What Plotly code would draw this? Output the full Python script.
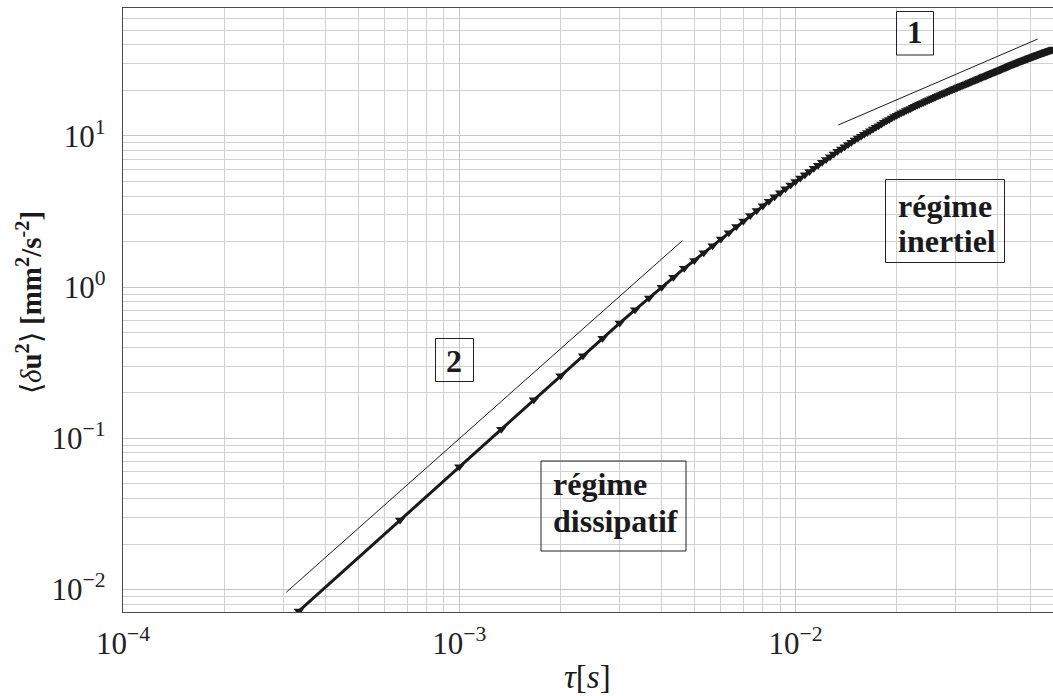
import plotly.graph_objects as go

# Second-order velocity structure function <du^2> vs time lag tau
sample_rate_hz = 3000
lag_samples = list(range(1, 177))

structure_fn = [
    0.0072, 0.0288, 0.0648, 0.115, 0.18, 0.259, 0.352, 0.459, 0.578, 0.708,
    0.848, 0.998, 1.16, 1.33, 1.50, 1.684, 1.877, 2.079, 2.291, 2.512,
    2.741, 2.979, 3.213, 3.452, 3.699, 3.952, 4.204, 4.464, 4.730, 5.002,
    5.269, 5.544, 5.824, 6.108, 6.399, 6.691, 6.988, 7.289, 7.593, 7.903,
    8.192, 8.488, 8.786, 9.088, 9.393, 9.676, 9.956, 10.236, 10.519, 10.80,
    11.095, 11.392, 11.691, 11.991, 12.295, 12.578, 12.857, 13.138, 13.418, 13.701,
    13.949, 14.199, 14.448, 14.698, 14.949, 15.200, 15.451, 15.702, 15.954, 16.21,
    16.429, 16.658, 16.887, 17.116, 17.345, 17.574, 17.803, 18.032, 18.261, 18.49,
    18.720, 18.939, 19.158, 19.378, 19.597, 19.816, 20.035, 20.253, 20.472, 20.690,
    20.91, 21.111, 21.322, 21.533, 21.744, 21.954, 22.164, 22.375, 22.585, 22.79,
    23.011, 23.222, 23.432, 23.642, 23.853, 24.063, 24.272, 24.482, 24.692, 24.901,
    25.110, 25.321, 25.531, 25.741, 25.951, 26.161, 26.370, 26.580, 26.789, 27.0,
    27.211, 27.423, 27.634, 27.845, 28.056, 28.267, 28.478, 28.689, 28.899, 29.11,
    29.301, 29.502, 29.704, 29.905, 30.105, 30.306, 30.506, 30.707, 30.907, 31.11,
    31.291, 31.482, 31.672, 31.863, 32.053, 32.243, 32.433, 32.622, 32.812, 33.0,
    33.180, 33.360, 33.540, 33.720, 33.899, 34.078, 34.258, 34.436, 34.615, 34.79,
    34.972, 35.143, 35.314, 35.486, 35.656, 35.827, 35.997, 36.168, 36.337, 36.51,
    36.667, 36.834, 37.001, 37.168, 37.335, 37.50,
]

# Power-law guide lines (end points)
slope2_tau = [3.06e-4, 4.61e-3]
slope2_val = [0.0096, 2.03]
slope1_tau = [0.0134, 0.0525]
slope1_val = [11.8, 43.7]

x_tickvals = [1e-4, 1e-3, 1e-2]
x_ticktext = ["10<sup>\u22124</sup>", "10<sup>\u22123</sup>", "10<sup>\u22122</sup>"]
y_tickvals = [1e-2, 1e-1, 1, 10]
y_ticktext = ["10<sup>\u22122</sup>", "10<sup>\u22121</sup>", "10<sup>0</sup>", "10<sup>1</sup>"]

tau = [k / sample_rate_hz for k in lag_samples]

W, H = 1053, 696
PL, PR, PT, PB = 123, 1053, 8, 612


def fx(p):
    return (p - PL) / (PR - PL)


def fy(p):
    return (PB - p) / (PB - PT)


INK = "#1a1a1a"
SERIF = "Liberation Serif"

fig = go.Figure()

fig.add_trace(go.Scatter(
    x=slope2_tau, y=slope2_val, mode="lines",
    line=dict(color=INK, width=1), hoverinfo="skip", showlegend=False,
))
fig.add_trace(go.Scatter(
    x=slope1_tau, y=slope1_val, mode="lines",
    line=dict(color=INK, width=1), hoverinfo="skip", showlegend=False,
))
fig.add_trace(go.Scatter(
    x=tau, y=structure_fn, mode="lines+markers",
    line=dict(color=INK, width=3),
    marker=dict(symbol="triangle-down", size=9, color=INK, line=dict(width=0)),
    showlegend=False,
))

grid_major = "#c6c6c6"
grid_minor = "#d2d2d2"

axis_common = dict(
    type="log",
    showline=True, mirror=True, linecolor="#4a4a4a", linewidth=1.4,
    showgrid=True, gridcolor=grid_major, gridwidth=1.4,
    ticks="", zeroline=False,
    tickfont=dict(family=SERIF, size=31, color="#222222"),
    tickmode="array",
)

fig.update_xaxes(
    **axis_common,
    range=[-4, -1.2342],
    tickvals=x_tickvals, ticktext=x_ticktext,
    ticklabelstandoff=4,
    minor=dict(showgrid=True, gridcolor=grid_minor, gridwidth=1.3, dtick="D1", ticks=""),
)
fig.update_yaxes(
    **axis_common,
    range=[-2.1487, 1.8458],
    tickvals=y_tickvals, ticktext=y_ticktext,
    ticklabelstandoff=10,
    minor=dict(showgrid=True, gridcolor=grid_minor, gridwidth=1.3, dtick="D1", ticks=""),
)

shapes = []
for (x0, y0, x1, y1) in [
    (541, 461, 686, 551),
    (885.5, 179.5, 1004.5, 262.5),
    (896.5, 11.5, 933.5, 55),
    (435.5, 338.5, 473.5, 381.5),
]:
    shapes.append(dict(
        type="rect", xref="paper", yref="paper",
        x0=fx(x0), x1=fx(x1), y0=fy(y1), y1=fy(y0),
        line=dict(color="#222222", width=1), fillcolor="rgba(0,0,0,0)",
    ))

annotations = []


def label(text, x, baseline, size, anchor="left"):
    annotations.append(dict(
        text="<b>" + text + "</b>", xref="paper", yref="paper",
        x=fx(x), y=fy(baseline - 0.3375 * size),
        xanchor=anchor, yanchor="middle", showarrow=False, borderpad=0,
        font=dict(family=SERIF, size=size, color=INK),
    ))


label("régime", 552, 495, 32)
label("dissipatif", 552, 531.7, 32)
label("régime", 896.7, 216.7, 32)
label("inertiel", 896.7, 251.7, 32)
label("1", 914.7, 43.3, 31, anchor="center")
label("2", 454, 371.7, 32, anchor="center")

# axis titles
annotations.append(dict(
    text="\u27e8<i>\u03b4</i><b>u<sup>2</sup></b>\u27e9 <b>[mm<sup>2</sup>/s<sup>-2</sup>]</b>",
    xref="paper", yref="paper", x=fx(29), y=fy(303),
    xanchor="center", yanchor="middle", textangle=-90, showarrow=False,
    font=dict(family=SERIF, size=29, color=INK),
))
annotations.append(dict(
    text="<i>\u03c4</i>[<i>s</i>]",
    xref="paper", yref="paper", x=fx(587), y=fy(677),
    xanchor="center", yanchor="middle", showarrow=False,
    font=dict(family=SERIF, size=33, color=INK),
))

fig.update_layout(
    width=W, height=H,
    margin=dict(l=PL, r=W - PR, t=PT, b=H - PB),
    paper_bgcolor="white", plot_bgcolor="white",
    shapes=shapes, annotations=annotations,
    showlegend=False,
)

fig.write_html("out.html")
